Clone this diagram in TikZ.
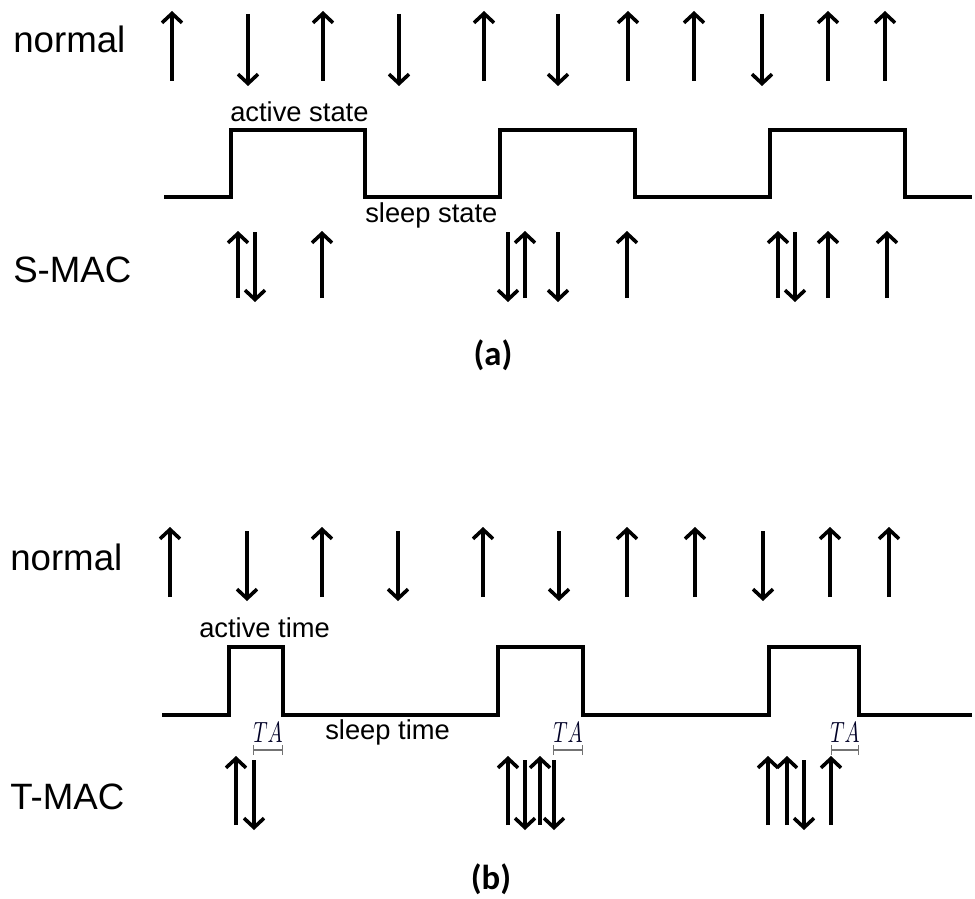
\documentclass[tikz,border=0pt]{standalone}
\usepackage{fontspec}
\usepackage{graphicx}
\setmainfont{Liberation Sans}
\newfontfamily\capfont{Carlito}
\usetikzlibrary{arrows.meta}
\newcommand{\talabel}{\resizebox{22pt}{15pt}{$TA$}}
\begin{document}
\begin{tikzpicture}[x=0.75pt,y=-0.75pt,
  wave/.style={line width=3pt,line join=miter},
  sig/.style={line width=2.7pt,-{Straight Barb[length=7pt,width=15pt,line width=2.7pt]}},
  lbl/.style={inner sep=0pt,anchor=base west,font=\fontsize{27.5}{30}\selectfont},
  statelbl/.style={inner sep=0pt,anchor=base west,font=\fontsize{20.5}{24}\selectfont},
  talbl/.style={inner sep=0pt,anchor=base,text=black!85!blue},
  tabar/.style={line width=1pt,draw=black!55,{Bar[width=7pt]}-{Bar[width=7pt]}},
  caption/.style={inner sep=0pt,font=\capfont\bfseries\fontsize{26}{29}\selectfont}]
\useasboundingbox (0,0) rectangle (975,899);

% ---------- (a) S-MAC ----------
\node[lbl] (na) at (13,53) {normal};
\node[lbl] (sa) at (13,282) {S-MAC};

% reception pattern of a node that is always on
\foreach \x/\d in {172/u,248/d,323/u,399/d,484/u,558/d,628/u,694/u,762/d,828/u,885/u}{
  \if u\d \draw[sig] (\x,81) -- (\x,11); \else \draw[sig] (\x,14) -- (\x,86); \fi
}

% duty cycle with fixed active period
\draw[wave] (164,197) -- (231,197) -- (231,130) -- (365,130) -- (365,197)
  -- (500,197) -- (500,130) -- (635,130) -- (635,197) -- (770,197)
  -- (770,130) -- (905,130) -- (905,197) -- (972,197);
\node[statelbl] (act) at (230,122) {active state};
\node[statelbl] (slp) at (365,222) {sleep state};

\foreach \x/\d in {238/u,255/d,322/u,508/d,525/u,558/d,627/u,778/u,795/d,828/u,887/u}{
  \if u\d \draw[sig] (\x,298) -- (\x,231); \else \draw[sig] (\x,232) -- (\x,302); \fi
}
\node[caption] (capa) at (493,355) {(a)};

% ---------- (b) T-MAC ----------
\node[lbl] (nb) at (10,570) {normal};
\node[lbl] (tb) at (10,809) {T-MAC};

\foreach \x/\d in {170/u,247/d,322/u,398/d,483/u,559/d,627/u,695/u,763/d,830/u,889/u}{
  \if u\d \draw[sig] (\x,597) -- (\x,527); \else \draw[sig] (\x,531) -- (\x,601); \fi
}

% adaptive duty cycle: active period ends after TA of silence
\draw[wave] (162,715) -- (229,715) -- (229,647) -- (283,647) -- (283,715)
  -- (498,715) -- (498,647) -- (583,647) -- (583,715) -- (769,715)
  -- (769,647) -- (859,647) -- (859,715) -- (972,715);
\node[statelbl] (actb) at (199,637) {active time};
\node[statelbl] (slpb) at (325,739) {sleep time};

% TA intervals
\foreach \a/\b/\n in {253/283/1,553/583/2,831/859/3}{
  \coordinate (ta\n l) at (\a,750);
  \coordinate (ta\n r) at (\b,750);
  \draw[tabar] (ta\n l) -- (ta\n r);
  \node[talbl] (ta\n) at ({(\a+\b)/2},742) {\talabel};
}

\foreach \x/\d in {236/u,254/d,508/u,525/d,540/u,554/d,768/u,787/u,804/d,831/u}{
  \if u\d \draw[sig] (\x,825) -- (\x,756); \else \draw[sig] (\x,760) -- (\x,830); \fi
}
\node[caption] (capb) at (491,879) {(b)};
\end{tikzpicture}
\end{document}
